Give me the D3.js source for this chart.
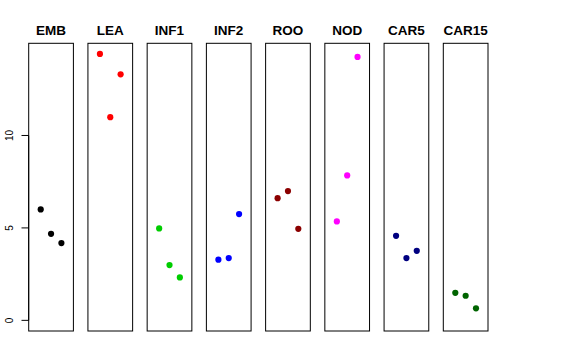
<!DOCTYPE html>
<html><head><meta charset="utf-8">
<script src="https://cdn.jsdelivr.net/npm/d3@7/dist/d3.min.js"></script>
<style>body{margin:0;background:#fff}svg{display:block}</style>
</head><body>
<svg id="c" width="576" height="360"></svg>
<script>
const categories = ["EMB","LEA","INF1","INF2","ROO","NOD","CAR5","CAR15"];
const colors = ["#000000","#FF0000","#00CD00","#0000FF","#8B0000","#FF00FF","#000080","#006400"];
const values = [
  [6.00, 4.68, 4.18],
  [14.41, 10.99, 13.31],
  [4.97, 2.99, 2.32],
  [3.28, 3.37, 5.75],
  [6.61, 6.99, 4.95],
  [5.35, 7.84, 14.25],
  [4.57, 3.37, 3.76],
  [1.49, 1.33, 0.65]
];
const yTicks = [0, 5, 10];

(function () {
const svg = d3.select("#c");
const plotTop = 43.3, plotBottom = 331;
const band = d3.scaleBand().domain(categories).range([28.7, 488]).paddingInner(0.2453).paddingOuter(0);
const ymax = d3.max(values.flat());
const y = d3.scaleLinear().domain([0 - 0.04*ymax, ymax*1.04]).range([plotBottom, plotTop]);

categories.forEach((cat, i) => {
  const x0 = band(cat), bw = band.bandwidth();
  const x = d3.scaleLinear().domain([-0.16, 4.16]).range([x0, x0 + bw]);
  const g = svg.append("g");
  g.append("rect").attr("x", x0).attr("y", plotTop).attr("width", bw).attr("height", plotBottom - plotTop)
    .attr("fill", "none").attr("stroke", "#000").attr("stroke-width", 1);
  g.selectAll("circle").data(values[i]).join("circle")
    .attr("cx", (d, j) => x(j + 1)).attr("cy", d => y(d)).attr("r", 3.1)
    .attr("fill", colors[i]);
  g.append("text").attr("x", x0 + bw/2).attr("y", 35).attr("text-anchor", "middle")
    .attr("font-family", "Liberation Sans, Arial, sans-serif").attr("font-weight", "bold")
    .attr("font-size", 13.5).text(cat);
});

// y axis
const ax0 = band(categories[0]);
const ax = svg.append("g");
ax.append("line").attr("x1", ax0).attr("x2", ax0).attr("y1", y(yTicks[0])).attr("y2", y(yTicks[yTicks.length-1]))
  .attr("stroke", "#000");
yTicks.forEach(t => {
  ax.append("line").attr("x1", ax0 - 7.2).attr("x2", ax0).attr("y1", y(t)).attr("y2", y(t)).attr("stroke", "#000");
  ax.append("text").attr("transform", `translate(13.3,${y(t)}) rotate(-90)`)
    .attr("text-anchor", "middle").attr("font-family", "Liberation Sans, Arial, sans-serif")
    .attr("font-size", 10).text(t);
});
})();
</script>
</body></html>
